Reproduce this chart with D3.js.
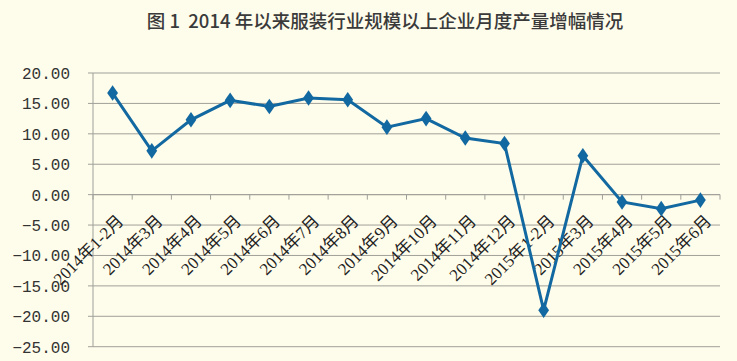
<!DOCTYPE html>
<html>
<head>
<meta charset="utf-8">
<script src="https://cdn.jsdelivr.net/npm/d3@7"></script>
<style>
  body { margin: 0; background: #fefcea; }
  svg { display: block; }
</style>
</head>
<body>
<script>
const months = ["2014年1-2月","2014年3月","2014年4月","2014年5月","2014年6月","2014年7月","2014年8月","2014年9月","2014年10月","2014年11月","2014年12月","2015年1-2月","2015年3月","2015年4月","2015年5月","2015年6月"]
const growth = [16.7, 7.2, 12.3, 15.5, 14.5, 15.9, 15.6, 11.1, 12.5, 9.3, 8.4, -19.0, 6.4, -1.2, -2.3, -0.9]
const yTicks = [20, 15, 10, 5, 0, -5, -10, -15, -20, -25]
const title = "图 1  2014 年以来服装行业规模以上企业月度产量增幅情况"

const width = 737
const height = 361
const padLeft = 93, padRight = 720, padTop = 73, padBottom = 346.7

const svg = d3.select("body").append("svg")
  .attr("width", width)
  .attr("height", height)

svg.append("rect").attr("width", width).attr("height", height).attr("fill", "#fefcea")

svg.append("text")
  .attr("x", 385)
  .attr("y", 28)
  .attr("text-anchor", "middle")
  .style("white-space", "pre")
  .style("font-family", "'Noto Sans CJK SC', sans-serif")
  .style("font-size", "18.5px")
  .style("font-weight", 500)
  .attr("fill", "#3a3a3a")
  .text(title)

const x = d3.scaleBand().domain(months).range([padLeft, padRight])
const y = d3.scaleLinear().domain([-25, 20]).range([padBottom, padTop])

// gridlines
svg.selectAll(".grid")
  .data(yTicks)
  .enter()
  .append("line")
  .attr("x1", padLeft - 5)
  .attr("x2", padRight)
  .attr("y1", d => y(d))
  .attr("y2", d => y(d))
  .attr("stroke", "#a0a09a")
  .attr("stroke-width", 1)

// y axis line + labels
svg.append("line")
  .attr("x1", padLeft).attr("x2", padLeft)
  .attr("y1", padTop).attr("y2", padBottom)
  .attr("stroke", "#a0a09a")

svg.selectAll(".ylab")
  .data(yTicks)
  .enter()
  .append("text")
  .attr("x", padLeft - 23)
  .attr("y", d => y(d) + 6)
  .attr("text-anchor", "end")
  .style("font-family", "'Liberation Mono', monospace")
  .style("font-size", "16px")
  .attr("fill", "#333")
  .text(d => d3.format(".2f")(d).replace("-", "−"))

// x axis at zero with ticks
const xAxis = d3.axisBottom(x).tickSize(5).tickFormat("")
const gX = svg.append("g")
  .attr("transform", "translate(0," + y(0) + ")")
  .call(xAxis)
gX.select(".domain").remove()
gX.selectAll(".tick line")
  .attr("stroke", "#a0a09a")
  .attr("transform", "translate(" + (x.bandwidth() / 2) + ",0)")
gX.append("line").attr("x1", padLeft).attr("x2", padRight).attr("stroke", "#a0a09a")
gX.append("line").attr("x1", padLeft).attr("x2", padLeft).attr("y2", 5).attr("stroke", "#a0a09a")

// rotated category labels
svg.selectAll(".xlab")
  .data(months)
  .enter()
  .append("text")
  .attr("text-anchor", "end")
  .attr("transform", d => "translate(" + (x(d) + x.bandwidth() / 2 + 12) + ",222) rotate(-45)")
  .style("font-family", "'Liberation Serif', 'Noto Sans CJK SC', serif")
  .style("font-size", "17px")
  .attr("fill", "#222")
  .text(d => d)

// line
const line = d3.line()
  .x((d, i) => x(months[i]) + x.bandwidth() / 2)
  .y(d => y(d))

svg.append("path")
  .datum(growth)
  .attr("d", line)
  .attr("fill", "none")
  .attr("stroke", "#1268a0")
  .attr("stroke-width", 3)

svg.selectAll(".pt")
  .data(growth)
  .enter()
  .append("path")
  .attr("d", d3.symbol(d3.symbolDiamond, 70))
  .attr("transform", (d, i) => "translate(" + (x(months[i]) + x.bandwidth() / 2) + "," + y(d) + ") scale(1.2,1)")
  .attr("fill", "#1268a0")
</script>
</body>
</html>
